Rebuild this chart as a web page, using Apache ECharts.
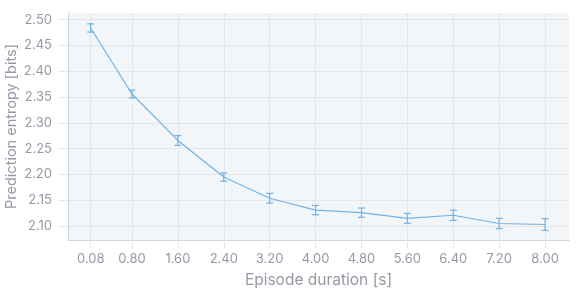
<!DOCTYPE html>
<html><head><meta charset="utf-8">
<script src="https://cdn.jsdelivr.net/npm/echarts@6/dist/echarts.min.js"></script>
<style>html,body{margin:0;padding:0;background:#fff}#c{width:582px;height:293px}</style>
</head><body><div id="c"></div>
<script>
const durations = [0.08, 0.80, 1.60, 2.40, 3.20, 4.00, 4.80, 5.60, 6.40, 7.20, 8.00];
const entropy = [2.484, 2.356, 2.266, 2.195, 2.154, 2.131, 2.126, 2.115, 2.121, 2.105, 2.103];
const errors = [0.008, 0.0075, 0.0095, 0.008, 0.0095, 0.009, 0.009, 0.0095, 0.010, 0.010, 0.0115];
const yTicks = [2.10, 2.15, 2.20, 2.25, 2.30, 2.35, 2.40, 2.45, 2.50];

const labelColor = '#9897a6';
const gridColor = '#e4e6ea';
const lineColor = '#6fb3e8';
const font = 'Inter';

const chart = echarts.init(document.getElementById('c'));
chart.setOption({
  animation: false,
  grid: {left: 68, right: 13, top: 13, bottom: 53, show: true, backgroundColor: '#f3f6f8', borderWidth: 0,
    outerBoundsMode: 'none', containLabel: false},
  xAxis: {
    type: 'value', min: -0.315, max: 8.417,
    name: 'Episode duration [s]', nameLocation: 'middle', nameGap: 32, nameMoveOverlap: false,
    nameTextStyle: {color: labelColor, fontSize: 15.5, fontFamily: font},
    axisLine: {show: true, onZero: false, lineStyle: {color: '#d3d6dc', width: 1}},
    axisTick: {show: true, length: 8, lineStyle: {color: gridColor}, customValues: durations},
    axisLabel: {color: labelColor, fontSize: 13, fontFamily: font, margin: 13, customValues: durations,
      formatter: v => v.toFixed(2)},
    splitLine: {show: true, lineStyle: {color: gridColor, width: 1}}
  },
  yAxis: {
    type: 'value', min: 2.073, max: 2.513,
    name: 'Prediction entropy [bits]', nameLocation: 'middle', nameGap: 49, nameMoveOverlap: false,
    nameTextStyle: {color: labelColor, fontSize: 14.5, fontFamily: font},
    axisLine: {show: true, onZero: false, lineStyle: {color: '#d3d6dc', width: 1}},
    axisTick: {show: true, length: 10, lineStyle: {color: gridColor}, customValues: yTicks},
    axisLabel: {color: labelColor, fontSize: 13, fontFamily: font, margin: 16, customValues: yTicks,
      formatter: v => v.toFixed(2)},
    splitLine: {show: true, lineStyle: {color: gridColor, width: 1}}
  },
  series: [
    {
      type: 'line', data: durations.map((d, i) => [d, entropy[i]]),
      symbol: 'none', lineStyle: {color: lineColor, width: 1.2}, z: 3
    },
    {
      type: 'custom', z: 4,
      data: durations.map((d, i) => [d, entropy[i] - errors[i], entropy[i] + errors[i]]),
      renderItem: (params, api) => {
        const lo = api.coord([api.value(0), api.value(1)]);
        const hi = api.coord([api.value(0), api.value(2)]);
        const w = 3.5;
        const style = {stroke: lineColor, lineWidth: 1.2};
        return {type: 'group', children: [
          {type: 'line', shape: {x1: lo[0], y1: lo[1], x2: hi[0], y2: hi[1]}, style},
          {type: 'line', shape: {x1: lo[0] - w, y1: lo[1], x2: lo[0] + w, y2: lo[1]}, style},
          {type: 'line', shape: {x1: hi[0] - w, y1: hi[1], x2: hi[0] + w, y2: hi[1]}, style}
        ]};
      }
    }
  ]
});
</script></body></html>
